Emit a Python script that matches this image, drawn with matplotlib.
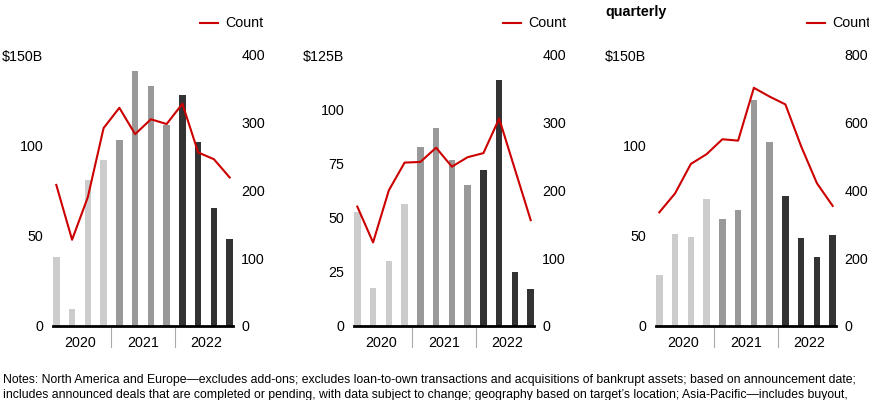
import matplotlib.pyplot as plt
import numpy as np
from matplotlib.lines import Line2D

W, H = 870, 400
plt.rcParams['font.family'] = ['Liberation Sans', 'DejaVu Sans']

years = ['2020', '2021', '2022']
quarters = np.arange(12)

# deal value ($B) per quarter, one list per region
value_na = [38, 9, 81, 92, 103, 141, 133, 111, 128, 102, 65, 48]
value_eu = [52.5, 17.5, 30, 56, 82.5, 91.5, 76.5, 65, 72, 113.5, 25, 17]
value_ap = [28, 51, 49, 70, 59, 64, 125, 102, 72, 48.5, 38, 50]

# deal count per quarter
count_na = [208, 127, 190, 292, 322, 283, 305, 298, 328, 256, 246, 219]
count_eu = [176, 123, 200, 241, 242, 263, 235, 249, 255, 306, 231, 156]
count_ap = [335, 391, 478, 507, 551, 547, 703, 677, 654, 530, 421, 354]

left_max = [150, 125, 150]
left_ticks = [[0, 50, 100, 150], [0, 25, 50, 75, 100, 125], [0, 50, 100, 150]]
right_max = [400, 400, 800]
right_ticks = [[0, 100, 200, 300, 400], [0, 100, 200, 300, 400], [0, 200, 400, 600, 800]]

bar_colors = ['#cccccc'] * 4 + ['#999999'] * 4 + ['#333333'] * 4
red = '#cc0000'
panel_left = [53, 354, 656]

fig = plt.figure(figsize=(W / 100, H / 100), dpi=100)

values = [value_na, value_eu, value_ap]
counts = [count_na, count_eu, count_ap]

for i in range(3):
    x0 = panel_left[i]
    ax = fig.add_axes([x0 / W, (H - 325.7) / H, 180 / W, 270.7 / H])
    ax.bar(quarters, values[i], width=0.42, color=bar_colors, zorder=2)
    ax.set_xlim(-0.21, 11.21)
    ax.set_ylim(0, left_max[i])
    ax.set_yticks(left_ticks[i])
    labels = [str(t) for t in left_ticks[i]]
    labels[-1] = '$' + labels[-1] + 'B'
    ax.set_yticklabels(labels)
    ax.tick_params(axis='y', length=0, pad=7, labelsize=10.3)
    ax.set_xticks([])
    for s in ax.spines.values():
        s.set_visible(False)
    ax.axhline(0, color='black', lw=2, zorder=5, clip_on=False)

    ax2 = ax.twinx()
    ax2.plot(quarters, counts[i], color=red, lw=1.5, zorder=3)
    ax2.set_ylim(0, right_max[i])
    ax2.set_yticks(right_ticks[i])
    ax2.tick_params(axis='y', length=0, pad=6, labelsize=10.3)
    for s in ax2.spines.values():
        s.set_visible(False)

    # year labels and separators
    for k, yr in enumerate(years):
        ax.text(4 * k + 1.5, -0.064, yr, transform=ax.get_xaxis_transform(),
                ha='center', va='center', fontsize=10.3)
    for sep in [3.5, 7.5]:
        ax.plot([sep, sep], [-0.005, -0.08], transform=ax.get_xaxis_transform(),
                color='#aaaaaa', lw=0.8, clip_on=False)

    # legend
    lx = [200, 503, 807][i]
    fig.add_artist(Line2D([lx / W, (lx + 18) / W], [(H - 23) / H] * 2, color=red, lw=1.5))
    fig.text((lx + 25) / W, (H - 23) / H, 'Count', ha='left', va='center', fontsize=10.3)

fig.text(605 / W, (H - 12) / H, 'quarterly', ha='left', va='center',
         fontsize=10.3, fontweight='bold')

notes = ("Notes: North America and Europe\u2014excludes add-ons; excludes loan-to-own transactions "
         "and acquisitions of bankrupt assets; based on announcement date;\n"
         "includes announced deals that are completed or pending, with data subject to change; "
         "geography based on target\u2019s location; Asia-Pacific\u2014includes buyout,")
fig.text(3 / W, (H - 374) / H, notes, ha='left', va='top', fontsize=8.8,
         linespacing=1.3, family=['Liberation Sans Narrow', 'Liberation Sans'])

fig.savefig('out.png', dpi=100)
